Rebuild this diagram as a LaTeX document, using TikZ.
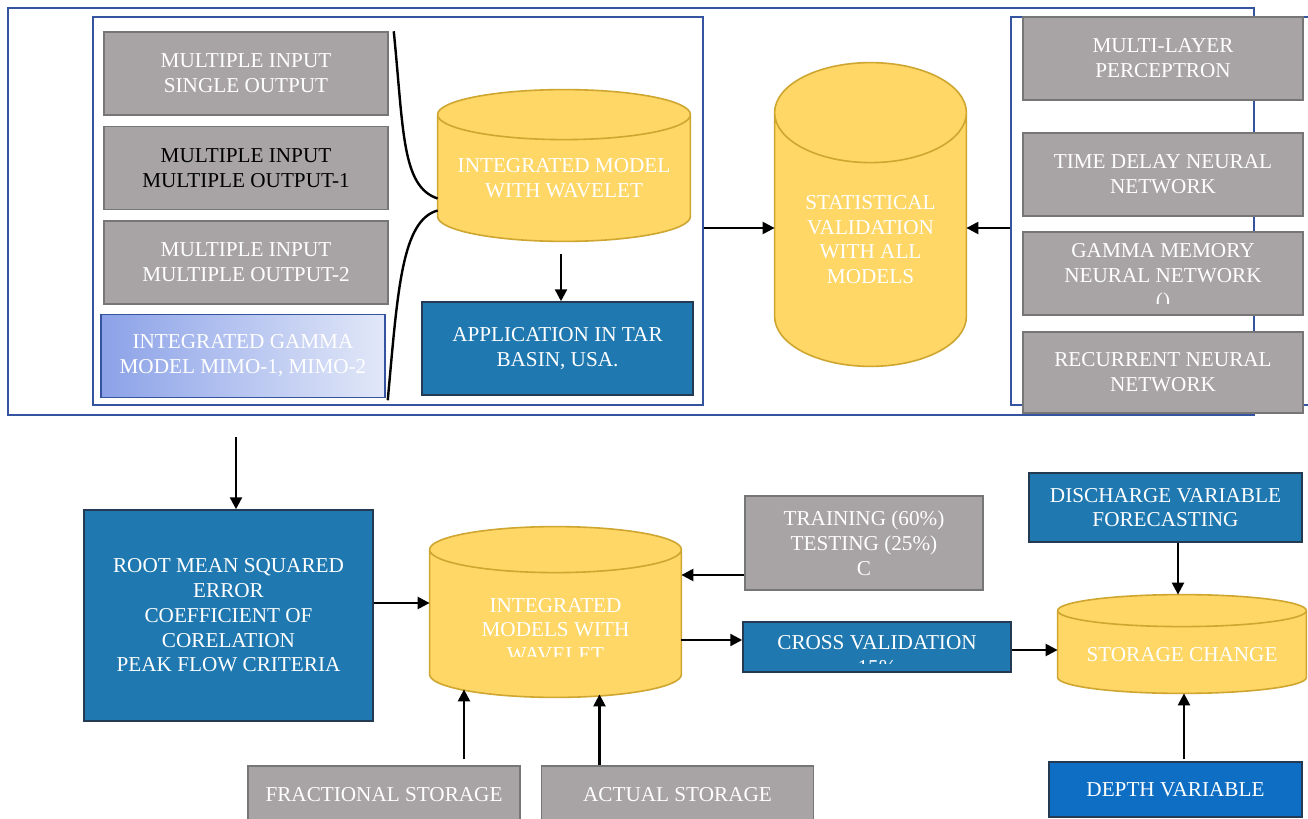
\documentclass[tikz,border=0pt]{standalone}
\usepackage{fontspec}
\setmainfont{Liberation Serif}
\usepackage{xcolor}
\usepackage{tikz}
\usetikzlibrary{arrows.meta, positioning, calc}

\definecolor{boxgray}{RGB}{168,164,165}
\definecolor{boxline}{RGB}{118,118,118}
\definecolor{steel}{RGB}{31,120,176}
\definecolor{steelline}{RGB}{35,58,82}
\definecolor{deepblue}{RGB}{14,110,196}
\definecolor{drumfill}{RGB}{254,215,102}
\definecolor{drumline}{RGB}{206,166,48}
\definecolor{frameblue}{RGB}{52,84,160}
\definecolor{gammadark}{RGB}{140,162,232}
\definecolor{gammalight}{RGB}{226,232,248}

\begin{document}
\begin{tikzpicture}[x=0.5pt, y=-0.5pt,
    font=\fontsize{10.6}{12.4}\selectfont,
    frame/.style={rectangle, draw=frameblue, line width=0.75pt, inner sep=0pt},
    graybox/.style={rectangle, draw=boxline, line width=0.75pt, fill=boxgray, text=white, align=center, minimum width=142pt, minimum height=41.5pt, inner sep=0pt},
    netbox/.style={graybox, minimum width=140pt},
    bluebox/.style={rectangle, draw=steelline, line width=0.75pt, fill=steel, text=white, align=center, inner sep=0pt},
    drumpaint/.style={fill=drumfill, draw=drumline, line width=0.8pt},
    drum/.style={rectangle, inner sep=0pt, append after command={\pgfextra{
        \draw[drumpaint] let \p1=(\tikzlastnode.north west), \p2=(\tikzlastnode.south east), \n1={(\x2-\x1)/2} in
          (\x1,{\y1-#1}) -- (\x1,{\y2+#1}) arc[start angle=180, end angle=360, x radius=\n1, y radius=#1]
          -- (\x2,{\y1-#1}) arc[start angle=0, end angle=180, x radius=\n1, y radius=#1] -- cycle
          (\x1,{\y1-#1}) arc[start angle=180, end angle=360, x radius=\n1, y radius=#1];}}},
    captext/.style={text=white, align=center, inner sep=0pt},
    arrow/.style={-{Triangle[length=6pt, width=6pt]}, line width=1.2pt},
    brace/.style={line width=1.2pt},
]
\path[use as bounding box, fill=white] (0,0) rectangle (1308,819);

% upper block: frames
\node[frame, minimum width=623pt, minimum height=203.5pt] (outer) at (631,211.5) {};
\node[frame, minimum width=305pt, minimum height=194pt] (leftpanel) at (398,211) {};
\node[frame, minimum width=154.5pt, minimum height=194pt] (rightpanel) at (1165.5,211) {};

% input structures
\node[graybox] (miso) at (246,73.5) {MULTIPLE INPUT\\SINGLE OUTPUT};
\node[graybox, text=black, below=5pt of miso] (mimo1) {MULTIPLE INPUT\\MULTIPLE OUTPUT-1};
\node[graybox, below=5pt of mimo1] (mimo2) {MULTIPLE INPUT\\MULTIPLE OUTPUT-2};
\node[graybox, draw=frameblue, left color=gammadark, right color=gammalight, below=4.5pt of mimo2, xshift=-1.5pt] (gamma) {INTEGRATED GAMMA\\MODEL MIMO-1, MIMO-2};

\node[drum=12.5pt, minimum width=126pt, minimum height=75.5pt,
      label={[captext, yshift=-6.5pt]center:INTEGRATED MODEL\\WITH WAVELET}] (intmodel) at (564,165.5) {};

\node[bluebox, minimum width=135.5pt, minimum height=46.5pt] (app) at (557.5,348.5) {APPLICATION IN TAR\\BASIN, USA.};

\draw[brace] ([xshift=2.5pt]miso.north east) .. controls +(5pt,-50pt) and +(-18pt,6pt) .. ([yshift=-16.5pt]intmodel.west);
\draw[brace] ([yshift=-22.5pt]intmodel.west) .. controls +(-18pt,-5pt) and +(5pt,55pt) .. ([xshift=1pt, yshift=-1pt]gamma.south east);

\coordinate (inmodel) at ([xshift=-1.5pt, yshift=-6.5pt]intmodel.south);
\draw[arrow] (inmodel) -- (inmodel |- app.north);

% validation
\node[drum=25pt, minimum width=95.5pt, minimum height=151.5pt,
      label={[captext, yshift=-12.5pt]center:STATISTICAL\\VALIDATION\\WITH ALL\\MODELS}] (statval) at (870.5,214.5) {};

\coordinate (lp) at ([yshift=-8.5pt]leftpanel.east);
\coordinate (rp) at ([yshift=-8.5pt]rightpanel.west);
\draw[arrow] (lp) -- (lp -| statval.west);
\draw[arrow] (rp) -- (rp -| statval.east);

% neural networks
\node[netbox] (mlp) at (1163,58.5) {MULTI-LAYER\\PERCEPTRON};
\node[netbox] (tdnn) at (1163,174.5) {TIME DELAY NEURAL\\NETWORK};
\node[netbox] (gmnn) at (1163,273.5) {};
\begin{scope}
\clip (1024,233) rectangle (1302,303);
\node[captext] (gmnntext) at (1163,278) {GAMMA MEMORY\\NEURAL NETWORK\\()};
\end{scope}
\node[netbox, minimum height=40.5pt] (rnn) at (1163,372.5) {RECURRENT NEURAL\\NETWORK};

% lower block
\coordinate (drop) at (236,437);
\node[bluebox, minimum width=144.5pt, minimum height=105.5pt] (rmse) at (228.5,615.5) {ROOT MEAN SQUARED\\ERROR\\COEFFICIENT OF\\CORELATION\\PEAK FLOW CRITERIA};
\draw[arrow] (drop) -- (drop |- rmse.north);

\node[drum=11.5pt, minimum width=125.5pt, minimum height=85pt] (intmodels) at (555.5,612) {};
\begin{scope}
\clip (440,585) rectangle (672,656);
\node[captext] (intmodelstext) at (555.5,630) {INTEGRATED\\MODELS WITH\\WAVELET};
\end{scope}

\coordinate (rm) at ([yshift=6.25pt]rmse.east);
\draw[arrow] (rm) -- (rm -| intmodels.west);

\node[graybox, minimum width=119pt, minimum height=47pt] (training) at (864,543) {TRAINING (60\%)\\TESTING (25\%)\\C};
\coordinate (tr) at ([yshift=-16pt]training.west);
\draw[arrow] (tr) -- (tr -| intmodels.east);

\node[bluebox, minimum width=134pt, minimum height=25pt] (crossval) at (877,647) {};
\begin{scope}
\clip (744,623) rectangle (1010,663);
\node[captext] (crossvaltext) at (877,655) {CROSS VALIDATION\\15\%};
\end{scope}
\coordinate (cv) at ([yshift=3.5pt]crossval.west);
\draw[arrow] (cv -| intmodels.east) -- (cv);

\node[drum=8pt, minimum width=124pt, minimum height=49pt,
      label={[captext, yshift=-5.5pt]center:STORAGE CHANGE}] (storage) at (1182,644) {};
\coordinate (cs) at ([yshift=-1.5pt]crossval.east);
\draw[arrow] (cs) -- (cs -| storage.west);

\node[bluebox, minimum width=136.5pt, minimum height=34.5pt] (discharge) at (1165.5,507.5) {DISCHARGE VARIABLE\\FORECASTING};
\coordinate (dis) at ([xshift=6.25pt]discharge.south);
\draw[arrow] (dis) -- (dis |- storage.north);

\node[bluebox, fill=deepblue, minimum width=126.5pt, minimum height=27.5pt] (depth) at (1175.5,789.5) {DEPTH VARIABLE};
\coordinate (dep) at ([xshift=4.25pt, yshift=1pt]depth.north);
\draw[arrow] (dep) -- (dep |- storage.south);

\node[graybox, minimum width=136pt, minimum height=28.5pt] (frac) at (384,794.5) {FRACTIONAL STORAGE};
\node[graybox, minimum width=136pt, minimum height=28.5pt, right=10pt of frac] (actual) {ACTUAL STORAGE};
\coordinate (fr) at ([xshift=40pt, yshift=3pt]frac.north);
\coordinate (ac) at ([xshift=-39pt]actual.north);
\draw[arrow, shorten >=-4pt] (fr) -- (fr |- intmodels.south);
\draw[arrow, shorten >=-1.5pt] (ac) -- (ac |- intmodels.south);
\end{tikzpicture}
\end{document}
